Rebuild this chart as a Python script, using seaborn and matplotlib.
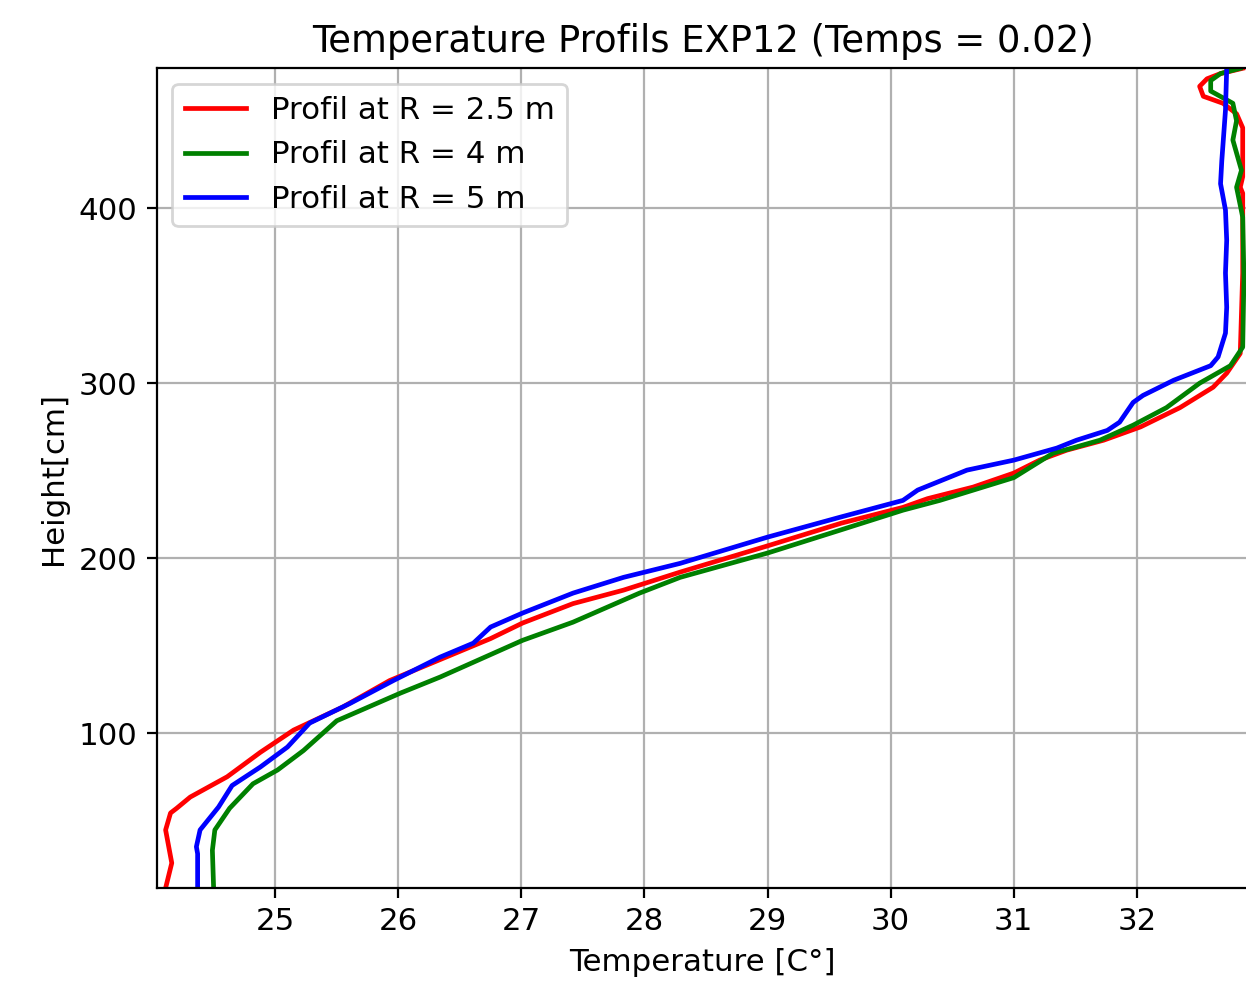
import matplotlib
matplotlib.use("Agg")
import matplotlib.pyplot as plt
import pandas as pd
import seaborn as sns

# Vertical temperature profiles (temperature in C, height in cm)
temp_r25 = [24.11, 24.16, 24.11, 24.15, 24.20, 24.31, 24.61, 24.88, 25.15, 25.55,
            25.93, 26.34, 26.75, 27.01, 27.42, 27.83, 28.29, 29.00, 29.60, 30.10,
            30.30, 30.67, 31.00, 31.21, 31.43, 31.73, 32.03, 32.35, 32.62, 32.73,
            32.84, 32.86, 32.86, 32.84, 32.86, 32.86, 32.81, 32.70, 32.54, 32.51,
            32.57, 32.68, 32.86]
height_r25 = [11.4, 25.7, 44.6, 54.3, 57.0, 63.4, 75.0, 89.0, 101.7, 114.9,
              130.0, 142.0, 154.0, 162.9, 174.0, 181.7, 192.0, 207.0, 220.0, 229.0,
              234.0, 240.6, 248.6, 256.0, 261.7, 267.4, 275.0, 286.0, 297.7, 305.7,
              317.0, 363.0, 408.6, 412.0, 418.0, 446.0, 454.0, 460.0, 464.0, 469.7,
              474.0, 477.0, 480.0]

temp_r4 = [24.50, 24.49, 24.51, 24.63, 24.82, 25.02, 25.23, 25.50, 26.02, 26.34,
           27.01, 27.42, 27.96, 28.29, 29.00, 29.59, 30.10, 30.40, 31.00, 31.32,
           31.48, 31.70, 31.97, 32.24, 32.51, 32.76, 32.86, 32.87, 32.86, 32.81,
           32.85, 32.78, 32.81, 32.78, 32.60, 32.60, 32.68, 32.84]
height_r4 = [11.4, 33.0, 44.6, 57.0, 71.0, 78.9, 90.0, 107.0, 122.9, 132.0,
             153.0, 163.4, 180.0, 189.0, 202.9, 216.0, 227.4, 233.0, 246.0, 260.0,
             263.0, 267.4, 276.0, 286.0, 300.0, 310.0, 320.6, 360.0, 394.9, 412.0,
             421.7, 439.0, 450.0, 460.0, 467.0, 473.0, 477.0, 480.0]

temp_r5 = [24.37, 24.37, 24.36, 24.39, 24.54, 24.65, 24.88, 25.10, 25.28, 25.61,
           25.96, 26.34, 26.61, 26.75, 27.01, 27.42, 27.83, 28.29, 29.00, 29.59,
           30.10, 30.22, 30.62, 31.00, 31.35, 31.51, 31.76, 31.86, 31.97, 32.05,
           32.30, 32.60, 32.66, 32.72, 32.73, 32.72, 32.73, 32.72, 32.68, 32.69,
           32.72, 32.73]
height_r5 = [11.4, 31.0, 35.0, 44.6, 57.7, 70.0, 80.6, 92.0, 105.7, 117.0,
             130.0, 143.4, 151.4, 160.6, 168.6, 180.0, 189.0, 197.0, 212.0, 223.4,
             233.0, 238.9, 250.3, 256.0, 262.9, 267.4, 273.0, 277.7, 289.0, 293.0,
             301.7, 310.0, 315.0, 328.6, 343.4, 363.0, 381.7, 399.0, 414.0, 427.0,
             456.0, 480.0]

labels = ["Profil at R = 2.5 m", "Profil at R = 4 m", "Profil at R = 5 m"]
colors = ["r", "g", "b"]

frames = []
for lab, t, h in zip(labels, [temp_r25, temp_r4, temp_r5],
                     [height_r25, height_r4, height_r5]):
    frames.append(pd.DataFrame({"temperature": t, "height": h, "profile": lab}))
df = pd.concat(frames, ignore_index=True)

plt.rcParams["font.size"] = 11.1
plt.rcParams["axes.titlesize"] = 13.3

fig = plt.figure(figsize=(6.23, 4.95), dpi=200)
ax = fig.add_axes([0.126, 0.103, 0.876, 0.828])

sns.lineplot(data=df, x="temperature", y="height", hue="profile",
             palette=dict(zip(labels, colors)), sort=False, estimator=None,
             linewidth=1.7, ax=ax)

ax.set_xlim(24.04, 32.907)
ax.set_ylim(11.4, 480)
ax.set_xticks([25, 26, 27, 28, 29, 30, 31, 32])
ax.set_yticks([100, 200, 300, 400])
ax.grid(True)
ax.set_xlabel("Temperature [C°]")
ax.set_ylabel("Height[cm]")
ax.set_title("Temperature Profils EXP12 (Temps = 0.02)")
ax.legend(loc="upper left", title=None)

fig.savefig("out.png", dpi=200)
